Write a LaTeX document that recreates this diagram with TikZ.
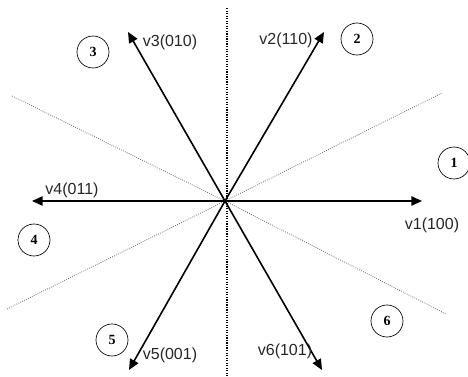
\documentclass[tikz,border=0pt]{standalone}
\usepackage{fontspec}
\setmainfont{Liberation Sans}
\newfontfamily\numfont{Liberation Serif}
\usetikzlibrary{arrows.meta}
\tikzset{vec/.style={line width=1.2pt, -{Triangle[length=8pt,width=7pt]}},
         sectline/.style={densely dotted, black!60, line width=0.6pt},
         sector/.style={draw, circle, line width=0.5pt, minimum size=24pt, inner sep=0pt, font=\numfont\bfseries\fontsize{10.5}{12}\selectfont},
         vlabel/.style={font=\fontsize{12}{14}\selectfont, text=black!85}}

\begin{document}
\begin{tikzpicture}[x=0.75pt, y=-0.75pt]
\useasboundingbox (0,0) rectangle (468,376);
% origin and vector tips
\coordinate (O) at (225,201);
\coordinate (t1) at (422,201);
\coordinate (t2) at (324,32);
\coordinate (t3) at (128,32);
\coordinate (t4) at (32,201);
\coordinate (t5) at (129,370);
\coordinate (t6) at (322,370);
% sector borders
\coordinate (top) at (227,8);
\coordinate (bot) at (227,376);
\coordinate (ur) at (442,93);
\coordinate (ul) at (12,96);
\coordinate (ll) at (7,309);
\coordinate (lr) at (446,314);
\draw[densely dotted, line width=0.9pt] (top) -- (bot);
\draw[sectline] (ll) -- (O) -- (ur);
\draw[sectline] (ul) -- (O) -- (lr);
% voltage vectors
\draw[vec] (O) -- (t1);
\draw[vec] (O) -- (t2);
\draw[vec] (O) -- (t3);
\draw[vec] (O) -- (t4);
\draw[vec] (O) -- (t5);
\draw[vec] (O) -- (t6);
\node[vlabel] (v1) at (432,225) {v1(100)};
\node[vlabel] (v2) at (286,40) {v2(110)};
\node[vlabel] (v3) at (170,42) {v3(010)};
\node[vlabel] (v4) at (72,190) {v4(011)};
\node[vlabel] (v5) at (170,355) {v5(001)};
\node[vlabel] (v6) at (285,351) {v6(101)};
% sector numbers
\node[sector] (s1) at (454,163) {1};
\node[sector] (s2) at (357,39) {2};
\node[sector] (s3) at (93,52) {3};
\node[sector] (s4) at (34,240) {4};
\node[sector] (s5) at (112,340) {5};
\node[sector] (s6) at (387,321) {6};
\end{tikzpicture}
\end{document}
